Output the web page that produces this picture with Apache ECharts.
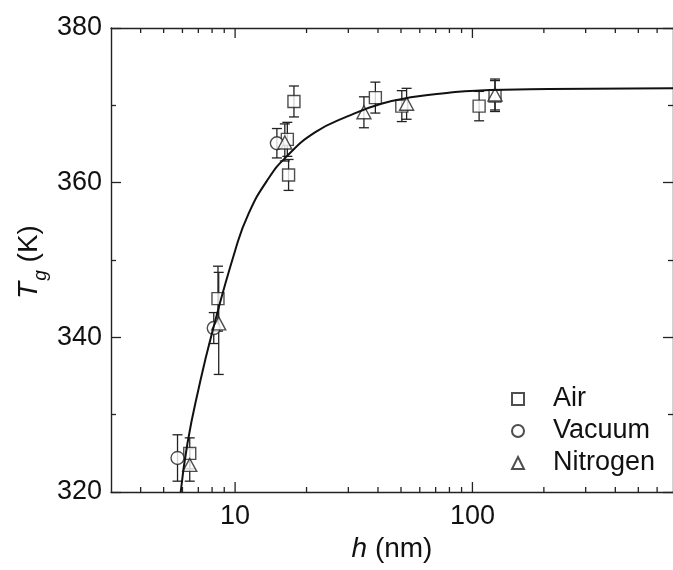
<!DOCTYPE html>
<html>
<head>
<meta charset="utf-8">
<script src="https://cdn.jsdelivr.net/npm/echarts@6/dist/echarts.min.js"></script>
<style>
html,body{margin:0;padding:0;background:#fff;}
#c{width:673px;height:570px;}
</style>
</head>
<body>
<div id="c"></div>
<script>
// ---- data ----
const airH = [6.44, 8.47, 16.6, 16.8, 17.7, 39.0, 50.4, 106.7, 124.5];
const airT = [325.0, 345.0, 365.6, 361.0, 370.5, 371.0, 369.9, 369.9, 371.2];
const airErr = [2.0, 4.2, 2.2, 2.0, 2.0, 2.0, 2.0, 1.9, 2.0];

const vacH = [5.72, 8.13, 15.0];
const vacT = [324.4, 341.2, 365.1];
const vacErr = [3.0, 2.0, 1.9];

const nitH = [6.44, 8.53, 16.2, 34.9, 52.8, 124.5];
const nitT = [323.5, 341.8, 365.2, 369.1, 370.2, 371.4];
const nitErr = [2.1, 6.6, 2.4, 2.0, 2.0, 2.0];

const curveH = [5.9, 6.3, 7.0, 8.0, 10, 11.4, 13.8, 16.5, 21.7, 29.9, 41.3, 57, 78, 103, 209, 700];
const curveT = [320, 326.3, 333.2, 340.6, 351.2, 356.0, 360.5, 363.4, 366.5, 368.6, 370.2, 371.1, 371.6, 371.9, 372.1, 372.2];

const xMin = 3, xMax = 700;
const yMin = 320, yMax = 380, yStep = 20;
const xMajorTicks = [10, 100];
const xMinorTicks = [4, 5, 6, 7, 8, 9, 20, 30, 40, 50, 60, 70, 80, 90, 200, 300, 400, 500, 600];
const seriesNames = ['Air', 'Vacuum', 'Nitrogen'];

// ---- build ----
const FONT = "'Liberation Sans', Arial, sans-serif";
const INK = '#222';
const zip = (a, b) => a.map((v, i) => [v, b[i]]);
const errData = []
  .concat(airH.map((h, i) => [h, airT[i], airErr[i]]))
  .concat(vacH.map((h, i) => [h, vacT[i], vacErr[i]]))
  .concat(nitH.map((h, i) => [h, nitT[i], nitErr[i]]));
const tickData = xMajorTicks.map(v => [v, 10]).concat(xMinorTicks.map(v => [v, 5]));

const markerStyle = { color: '#fff', borderColor: INK, borderWidth: 1.4 };

const chart = echarts.init(document.getElementById('c'), null, { renderer: 'canvas' });
chart.setOption({
  animation: false,
  backgroundColor: '#fff',
  textStyle: { fontFamily: FONT },
  grid: { left: 111, right: -6, top: 28, bottom: 78 },
  legend: {
    orient: 'vertical',
    left: 506,
    top: 380,
    data: seriesNames,
    itemWidth: 12,
    itemHeight: 12,
    itemGap: 4,
    formatter: n => '{a|' + n + '}',
    textStyle: {
      fontSize: 27, color: '#111', fontFamily: FONT, lineHeight: 28,
      rich: { a: { fontSize: 27, color: '#111', fontFamily: FONT, lineHeight: 28, padding: [0, 0, 0, 24] } }
    },
    selectedMode: false
  },
  xAxis: [{
    type: 'log', logBase: 10, min: xMin, max: xMax,
    position: 'bottom',
    axisLine: { show: true, lineStyle: { color: INK, width: 1.4 } },
    axisTick: { show: false },
    splitLine: { show: false },
    axisLabel: {
      margin: 11, fontSize: 27, color: '#111', fontFamily: FONT,
      showMinLabel: false, showMaxLabel: false,
      formatter: v => { const r = Math.round(v); return xMajorTicks.indexOf(r) >= 0 ? String(r) : ''; }
    },
    name: '{i|h} (nm)',
    nameLocation: 'middle',
    nameGap: 40,
    nameTextStyle: {
      fontSize: 28, color: '#111', fontFamily: FONT,
      rich: { i: { fontSize: 28, fontStyle: 'italic', color: '#111', fontFamily: FONT } }
    }
  }, {
    type: 'log', logBase: 10, min: xMin, max: xMax,
    position: 'top',
    axisLine: { show: true, lineStyle: { color: INK, width: 1.4 } },
    axisTick: { show: false }, axisLabel: { show: false }, splitLine: { show: false }
  }],
  yAxis: [{
    type: 'value', min: yMin, max: yMax, interval: yStep,
    position: 'left',
    axisLine: { show: true, lineStyle: { color: INK, width: 1.4 } },
    axisTick: { show: true, inside: true, length: 10, lineStyle: { color: INK, width: 1.3 } },
    minorTick: { show: true, splitNumber: 2, length: 5, lineStyle: { color: INK, width: 1.3 } },
    splitLine: { show: false },
    axisLabel: { margin: 9, fontSize: 27, color: '#111', fontFamily: FONT }
  }, {
    type: 'value', min: yMin, max: yMax, interval: yStep,
    position: 'right',
    axisLine: { show: true, lineStyle: { color: INK, width: 1.4 } },
    axisTick: { show: true, inside: true, length: 10, lineStyle: { color: INK, width: 1.3 } },
    minorTick: { show: true, splitNumber: 2, length: 5, lineStyle: { color: INK, width: 1.3 } },
    splitLine: { show: false },
    axisLabel: { show: false }
  }],
  graphic: [{
    type: 'text',
    x: 29, y: 262,
    rotation: Math.PI / 2,
    style: {
      text: '{t|T}{g|g}{n| (K)}',
      align: 'center', verticalAlign: 'middle',
      fill: '#111',
      rich: {
        t: { fontSize: 28, fontStyle: 'italic', fontFamily: FONT, fill: '#111', lineHeight: 32, verticalAlign: 'middle' },
        g: { fontSize: 19, fontStyle: 'italic', fontFamily: FONT, fill: '#111', lineHeight: 32, verticalAlign: 'bottom', padding: [0, 0, -5, 1] },
        n: { fontSize: 28, fontFamily: FONT, fill: '#111', lineHeight: 32, verticalAlign: 'middle' }
      }
    }
  }],
  series: [
    {
      name: 'xticks', type: 'custom', data: tickData, silent: true, z: 1,
      renderItem: (params, api) => {
        const v = api.value(0), len = api.value(1);
        const b = api.coord([v, yMin]), t = api.coord([v, yMax]);
        const st = { stroke: INK, lineWidth: 1.3 };
        return { type: 'group', children: [
          { type: 'line', shape: { x1: b[0], y1: b[1], x2: b[0], y2: b[1] - len }, style: st },
          { type: 'line', shape: { x1: t[0], y1: t[1], x2: t[0], y2: t[1] + len }, style: st }
        ] };
      }
    },
    {
      name: 'errors', type: 'custom', data: errData, silent: true, z: 2,
      renderItem: (params, api) => {
        const h = api.value(0), t = api.value(1), e = api.value(2);
        const top = api.coord([h, t + e]), bot = api.coord([h, t - e]);
        const w = 5;
        const st = { stroke: INK, lineWidth: 1.3 };
        return { type: 'group', children: [
          { type: 'line', shape: { x1: top[0], y1: top[1], x2: bot[0], y2: bot[1] }, style: st },
          { type: 'line', shape: { x1: top[0] - w, y1: top[1], x2: top[0] + w, y2: top[1] }, style: st },
          { type: 'line', shape: { x1: bot[0] - w, y1: bot[1], x2: bot[0] + w, y2: bot[1] }, style: st }
        ] };
      }
    },
    {
      name: 'Air', type: 'scatter', data: zip(airH, airT), symbol: 'rect', symbolSize: 12,
      itemStyle: markerStyle, z: 3
    },
    {
      name: 'Vacuum', type: 'scatter', data: zip(vacH, vacT), symbol: 'circle', symbolSize: 13,
      itemStyle: markerStyle, z: 3
    },
    {
      name: 'Nitrogen', type: 'scatter', data: zip(nitH, nitT), symbol: 'triangle', symbolSize: [14, 13],
      itemStyle: markerStyle, z: 3
    },
    {
      name: 'fit', type: 'line', data: zip(curveH, curveT), showSymbol: false, symbol: 'none',
      smooth: 0.5, clip: true, silent: true, z: 4,
      lineStyle: { color: '#111', width: 2 }
    }
  ]
});
</script>
</body>
</html>
